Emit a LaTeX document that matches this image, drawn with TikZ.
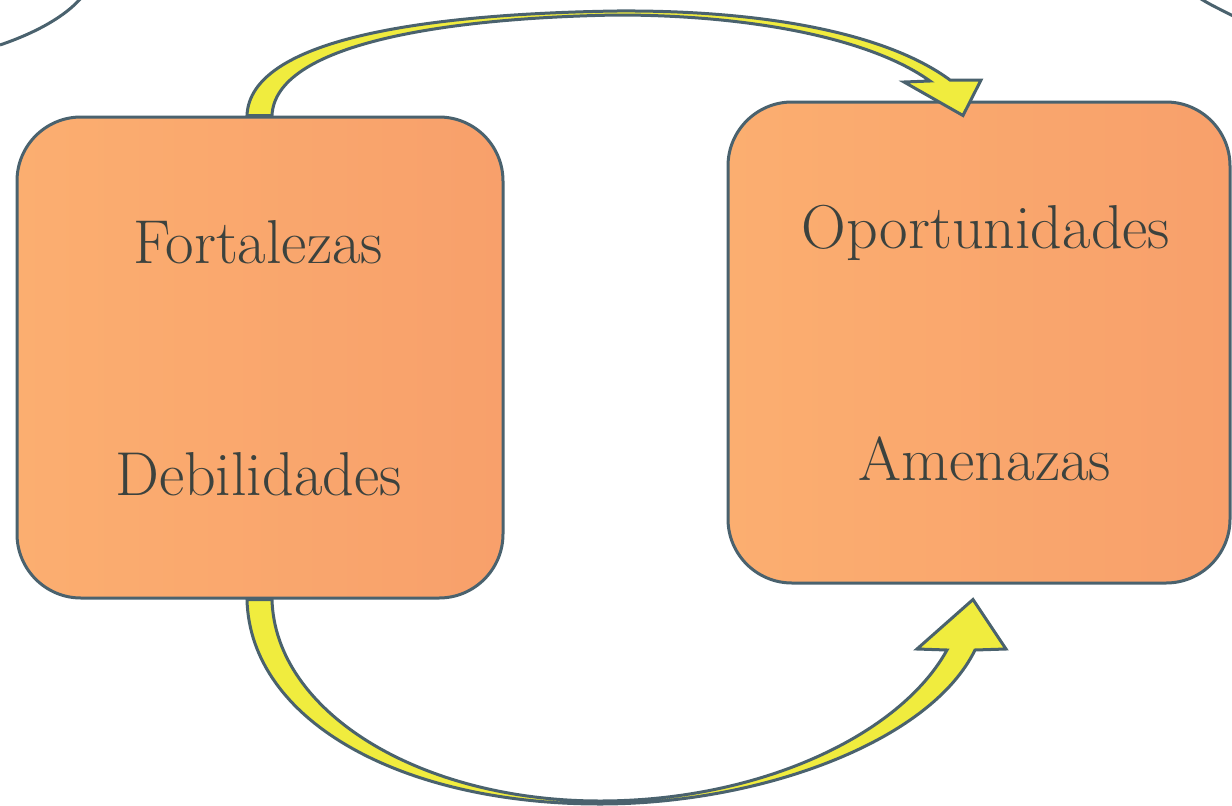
\documentclass[tikz,border=0pt]{standalone}
\usetikzlibrary{calc}
\definecolor{edgeblue}{RGB}{74,98,110}
\definecolor{boxleft}{RGB}{251,174,112}
\definecolor{boxright}{RGB}{248,160,107}
\definecolor{arrowyellow}{RGB}{240,236,62}
\definecolor{txt}{RGB}{60,66,62}
\begin{document}
\begin{tikzpicture}[x=1pt,y=-1pt,
  swotbox/.style={draw=edgeblue, line width=3pt, rounded corners=64pt,
    left color=boxleft, right color=boxright, inner sep=0pt},
  lbl/.style={anchor=base, text=txt, inner sep=0pt,
    font=\fontsize{62}{66}\selectfont},
  flowarrow/.style={draw=edgeblue, fill=arrowyellow, line width=3pt, line join=miter},
  rim/.style={draw=edgeblue, line width=3pt}]
\useasboundingbox (0,0) rectangle (1232,806);
\fill[white] (0,0) rectangle (1232,806);

% partial outer curves
\draw[rim] (0,45) .. controls (35,33) and (65,17) .. (82,-3);
\draw[rim] (1198,-3) .. controls (1210,5) and (1222,10) .. (1235,17);

% boxes
\node[swotbox, minimum width=486pt, minimum height=481pt] (L) at (260,357.5) {};
\node[swotbox, minimum width=502pt, minimum height=481pt] (R) at (979,342.5) {};

% texts
\node[lbl] (F) at (258,263) {Fortalezas};
\node[lbl] (D) at (258.5,495) {Debilidades};
\node[lbl] (O) at (986,248) {Oportunidades};
\node[lbl] (A) at (985,480) {Amenazas};

% top arrow
\draw[flowarrow]
  ([xshift=-13pt]L.north) .. controls (250,40) and (420,14) .. (617,11)
  .. controls (760,10) and (885,32) .. (950,80)
  -- (981,80) -- ([xshift=-16pt,yshift=-15pt]R.north) -- (904,82) -- (930,81)
  .. controls (870,38) and (750,15) .. (617,15)
  .. controls (440,18) and (275,45) .. ([xshift=12pt]L.north) -- cycle;

% bottom arrow
\draw[flowarrow]
  ([xshift=-13pt]L.south) .. controls (250,720) and (400,804) .. (600,804)
  .. controls (760,804) and (930,742) .. (975,650)
  -- (1006,649) -- ([xshift=-6pt,yshift=-15pt]R.south) -- (917,649) -- (947,650)
  .. controls (900,735) and (760,801) .. (600,801)
  .. controls (420,801) and (275,712) .. ([xshift=12pt]L.south) -- cycle;
\end{tikzpicture}
\end{document}
